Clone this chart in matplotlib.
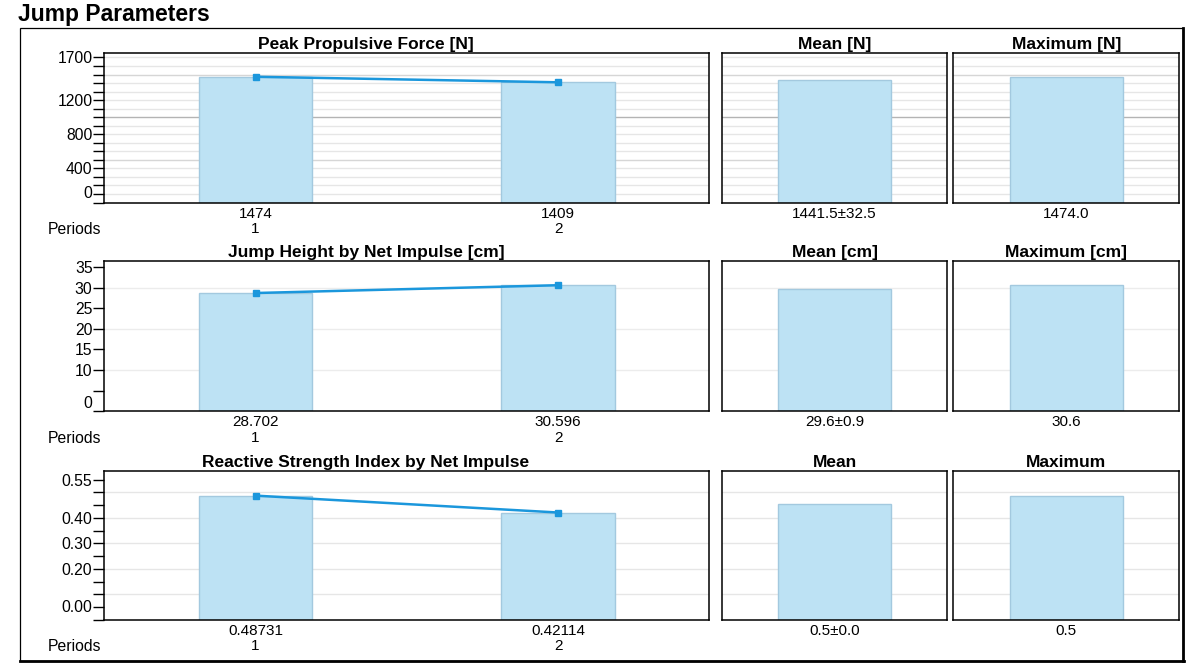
import matplotlib
matplotlib.use("Agg")
import matplotlib.pyplot as plt
from matplotlib.lines import Line2D
from matplotlib.patches import Rectangle
import numpy as np

plt.rcParams['font.family'] = ['Liberation Sans', 'DejaVu Sans']

# data
periods = [1, 2]
titles = ["Peak Propulsive Force [N]", "Jump Height by Net Impulse [cm]",
          "Reactive Strength Index by Net Impulse"]
units = ["[N]", "[cm]", ""]
peak_force = [1474, 1409]
jump_height = [28.702, 30.596]
rsi = [0.48731, 0.42114]
value_labels = [["1474", "1409"], ["28.702", "30.596"], ["0.48731", "0.42114"]]
mean_labels = ["1441.5\u00b132.5", "29.6\u00b10.9", "0.5\u00b10.0"]
max_labels = ["1474.0", "30.6", "0.5"]

# axis setup per row: ylim top, tick step, labelled ticks, grid lines
row_cfg = [
    dict(top=1756, step=100, labels={400: "400", 800: "800", 1200: "1200", 1700: "1700"},
         zero=("0", 100), grid=[(v, '#e6e6e6') for v in range(100, 1800, 100) if v % 500]
         + [(500, '#d6d6d6'), (1500, '#d6d6d6'), (1000, '#b4b4b4')]),
    dict(top=36.4, step=5, labels={10: "10", 15: "15", 20: "20", 25: "25", 30: "30", 35: "35"},
         zero=("0", 2), grid=[(10, '#ececec'), (20, '#ececec'), (30, '#ececec')]),
    dict(top=0.585, step=0.05, labels={0.2: "0.20", 0.3: "0.30", 0.4: "0.40", 0.55: "0.55"},
         zero=("0.00", 0.05), grid=[(v, '#e6e6e6') for v in (0.1, 0.2, 0.3, 0.4, 0.5)]),
]
series = [peak_force, jump_height, rsi]

bar_face = '#bde2f4'
bar_edge = '#a3c9df'
line_col = '#1b97dc'

W, H = 1190, 664
fig = plt.figure(figsize=(W / 100, H / 100), dpi=100)

fig.text(18 / W, 1 - 14 / H, "Jump Parameters", fontsize=16.5, fontweight='bold',
         ha='left', va='center')

# outer frame
fig.add_artist(Rectangle((20 / W, 1 - 661 / H), 1163 / W, 633 / H, transform=fig.transFigure,
                         fill=False, lw=0.9, ec='black'))
fig.add_artist(Line2D([1183 / W, 1183 / W], [1 - 661 / H, 1 - 28 / H], transform=fig.transFigure,
                      lw=2, color='black'))
fig.add_artist(Line2D([20 / W, 1184 / W], [1 - 661 / H, 1 - 661 / H], transform=fig.transFigure,
                      lw=2, color='black'))

row_y = [(52.7, 202.5), (261.3, 411.3), (470.7, 620)]
cols = [(104.3, 709.3), (721.7, 947.3), (953.3, 1179.3)]


def make_ax(x0, x1, y0, y1):
    return fig.add_axes([x0 / W, 1 - y1 / H, (x1 - x0) / W, (y1 - y0) / H])


def style(ax, cfg):
    ax.set_ylim(0, cfg['top'])
    for v, c in cfg['grid']:
        ax.axhline(v, color=c, lw=1, zorder=0)
    for s in ax.spines.values():
        s.set_linewidth(1.1)
    ax.tick_params(axis='x', length=0, pad=3, labelsize=11)


for r in range(3):
    cfg = row_cfg[r]
    y0, y1 = row_y[r]
    vals = series[r]

    # left: per-period bars and line
    ax = make_ax(cols[0][0], cols[0][1], y0, y1)
    style(ax, cfg)
    ax.set_xlim(0.5, 2.5)
    ax.bar(periods, vals, width=0.375, color=bar_face, edgecolor=bar_edge, lw=1, zorder=2)
    ax.plot(periods, vals, color=line_col, lw=1.8, marker='s', ms=4, zorder=3)
    ax.set_xticks(periods)
    ax.set_xticklabels([f"{value_labels[r][i]}\n{p}" for i, p in enumerate(periods)],
                       linespacing=1.1)
    ticks = np.arange(0, cfg['top'], cfg['step'])
    ax.set_yticks(ticks)
    lbls = []
    for t in ticks:
        lab = ''
        for k, s in cfg['labels'].items():
            if abs(t - k) < cfg['step'] * 0.01:
                lab = s
        lbls.append(lab)
    ax.set_yticklabels(lbls)
    ax.tick_params(axis='y', length=8, width=1, pad=0.5, labelsize=11.3, direction='out')
    zl, zpos = cfg['zero']
    ax.annotate(zl, xy=(0, zpos), xycoords=('axes fraction', 'data'), xytext=(-8.5, 0),
                textcoords='offset points', ha='right', va='center', fontsize=11.3)
    ax.set_title(titles[r], fontsize=12.5, fontweight='bold', pad=3, x=0.4326)
    ax.text(-0.093, -0.18, "Periods", transform=ax.transAxes, fontsize=11.3,
            ha='left', va='center')

    # mean panel
    axm = make_ax(cols[1][0], cols[1][1], y0, y1)
    style(axm, cfg)
    axm.set_xlim(0.5, 1.5)
    axm.bar([1], [np.mean(vals)], width=0.5, color=bar_face, edgecolor=bar_edge, lw=1, zorder=2)
    axm.set_xticks([1])
    axm.set_xticklabels([mean_labels[r]])
    axm.set_yticks([])
    axm.set_title(("Mean " + units[r]).strip(), fontsize=12.5, fontweight='bold', pad=3)

    # maximum panel
    axx = make_ax(cols[2][0], cols[2][1], y0, y1)
    style(axx, cfg)
    axx.set_xlim(0.5, 1.5)
    axx.bar([1], [max(vals)], width=0.5, color=bar_face, edgecolor=bar_edge, lw=1, zorder=2)
    axx.set_xticks([1])
    axx.set_xticklabels([max_labels[r]])
    axx.set_yticks([])
    axx.set_title(("Maximum " + units[r]).strip(), fontsize=12.5, fontweight='bold', pad=3)

fig.savefig("out.png", dpi=100)
